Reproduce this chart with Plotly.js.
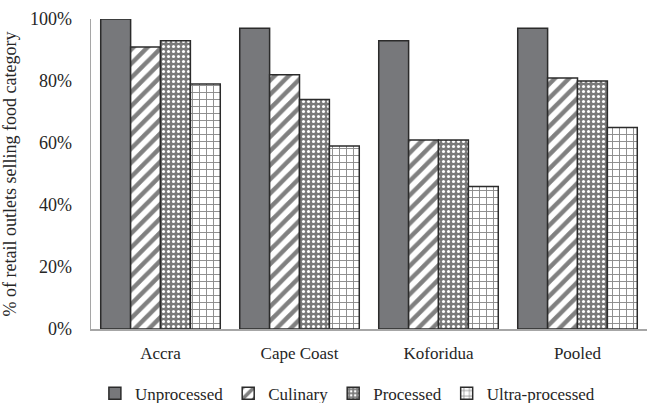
<!DOCTYPE html>
<html>
<head>
<meta charset="utf-8">
<script src="https://cdn.plot.ly/plotly-3.0.1.min.js"></script>
<style>
  html, body { margin: 0; padding: 0; background: #fff; }
  #chart { width: 651px; height: 403px; }
</style>
</head>
<body>
<div id="chart"></div>
<script>
// Share of retail outlets selling each food category, by city
const cities = ["Accra", "Cape Coast", "Koforidua", "Pooled"];
const unprocessed = [100, 97, 93, 97];
const culinary = [91, 82, 61, 81];
const processed = [93, 74, 61, 80];
const ultraProcessed = [79, 59, 46, 65];
const yTicks = [0, 20, 40, 60, 80, 100];
const yTickLabels = ["0%", "20%", "40%", "60%", "80%", "100%"];

const outline = { color: "#2b2b2b", width: 1.5 };
const textColor = "#262626";
const f = (size) => ({ family: "Liberation Serif", size: size, color: textColor });

const traces = [
  {
    name: "Unprocessed", x: cities, y: unprocessed, type: "bar",
    marker: { color: "#77787b", line: outline }
  },
  {
    name: "Culinary", x: cities, y: culinary, type: "bar",
    marker: {
      color: "#ffffff", line: outline,
      pattern: { shape: "/", fgcolor: "#808080", bgcolor: "#ffffff", size: 10, solidity: 0.45 }
    }
  },
  {
    name: "Processed", x: cities, y: processed, type: "bar",
    marker: {
      color: "#7a7a7a", line: outline,
      pattern: { shape: ".", fgcolor: "#ffffff", bgcolor: "#7a7a7a", size: 5, solidity: 0.3 }
    }
  },
  {
    name: "Ultra-processed", x: cities, y: ultraProcessed, type: "bar",
    marker: {
      color: "#ffffff", line: outline,
      pattern: { shape: "+", fgcolor: "#8a8a8a", bgcolor: "#ffffff", size: 7, solidity: 0.25 }
    }
  }
];

const layout = {
  width: 651, height: 403,
  margin: { l: 91, r: 4, t: 19, b: 74, autoexpand: false },
  paper_bgcolor: "#ffffff", plot_bgcolor: "#ffffff",
  font: f(17),
  barmode: "group",
  bargap: 0.14,
  bargroupgap: 0,
  showlegend: true,
  legend: {
    orientation: "h",
    xref: "paper", x: 0.007, xanchor: "left",
    yref: "paper", y: -0.209, yanchor: "middle",
    font: f(17),
    itemwidth: 30
  },
  xaxis: {
    showline: true, linecolor: "#a6a6a6", linewidth: 1.5,
    ticks: "", tickfont: f(17), ticklabelstandoff: 8,
    showgrid: false
  },
  yaxis: {
    range: [0, 100],
    tickvals: yTicks, ticktext: yTickLabels,
    showline: true, linecolor: "#a6a6a6", linewidth: 1.5,
    showgrid: false, zeroline: false, ticks: "",
    tickfont: f(18), ticklabelstandoff: 14,
    title: { text: "% of retail outlets selling food category", font: f(18), standoff: 9 }
  }
};

Plotly.newPlot("chart", traces, layout, { displayModeBar: false, staticPlot: true });
</script>
</body>
</html>
